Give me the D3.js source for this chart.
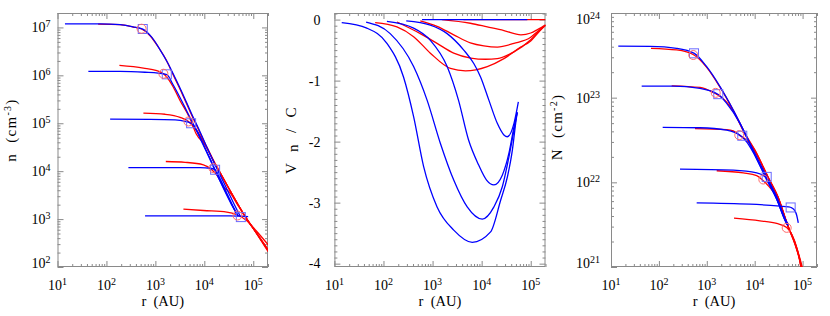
<!DOCTYPE html>
<html><head><meta charset="utf-8">
<script src="https://cdn.jsdelivr.net/npm/d3@7"></script>
<style>
body{margin:0;background:#fff}
svg{display:block}
text{font-family:"Liberation Serif","DejaVu Serif","Times New Roman",serif;fill:#000}
</style>
</head><body>
<svg id="c" width="830" height="316" font-family="Liberation Serif, DejaVu Serif, serif"></svg>
<script>
// ---------- tick labels ----------
const rTicks = [1e1, 1e2, 1e3, 1e4, 1e5];
const rTickExp = ["1", "2", "3", "4", "5"];
const nTicks = [1e2, 1e3, 1e4, 1e5, 1e6, 1e7];
const nTickExp = ["2", "3", "4", "5", "6", "7"];
const vTicks = [0, -1, -2, -3, -4];
const vTickLabels = ["0", "-1", "-2", "-3", "-4"];
const NTicks = [1e21, 1e22, 1e23, 1e24];
const NTickExp = ["21", "22", "23", "24"];

// ---------- panel 1: n (cm^-3) vs r (AU) ----------
const nBlue = [
  [[14.2,1.19e7],[74,1.19e7],[190,1.14e7],[350,1.03e7],[552,9.2e6],[857,6.1e6],[1248,3.4e6],[1735,1.92e6],[2531,8.9e5],[3684,3.94e5],[5370,1.66e5],[7830,7.3e4],[11410,3.08e4],[15860,1.5e4],[22060,7.46e3],[30670,3.72e3],[40700,2.04e3],[53950,1.16e3]],
  [[42.7,1.21e6],[190,1.21e6],[615,1.16e6],[1136,1.11e6],[1711,1.03e6],[2302,6.37e5],[3201,3.41e5],[4448,1.74e5],[6486,8.06e4],[9446,3.56e4],[13140,1.73e4],[18280,8.4e3],[25400,4.09e3],[35340,2.08e3],[49100,1.16e3]],
  [[119,1.22e5],[780,1.21e5],[2531,1.18e5],[4046,1.10e5],[5370,1.0e5],[7125,6.97e4],[9908,3.39e4],[13770,1.65e4],[19150,7.64e3],[26630,3.9e3],[35340,2.19e3],[46880,1.2e3]],
  [[281,1.19e4],[2000,1.19e4],[8203,1.18e4],[13140,1.15e4],[16630,1.07e4],[21040,6.9e3],[27900,3.72e3],[37070,1.99e3],[49100,1.16e3]],
  [[615,1.17e3],[8203,1.17e3],[33720,1.17e3],[53950,1.15e3],[78690,1.13e3]]
];
const nRed = [
  [[67.6,1.17e7],[190,1.14e7],[350,1.02e7],[522,9.27e6],[780,6.72e6],[1136,3.95e6],[1656,2.12e6],[2410,9.35e5],[3516,4.13e5],[5124,1.74e5],[7470,7.67e4],[10890,3.39e4],[15860,1.57e4],[23110,7.83e3],[33720,3.9e3],[49100,1.99e3],[71590,1.06e3],[114600,5.18e2],[201800,2.08e2]],
  [[184,1.61e6],[569,1.42e6],[1069,1.25e6],[1459,1.08e6],[1711,9.2e5],[2302,5.78e5],[3201,2.95e5],[5000,1.30e5],[6800,6.04e4],[10890,3.3e4],[15860,1.55e4],[23110,7.8e3],[33720,3.9e3],[49100,1.99e3],[71590,1.06e3],[114600,5.3e2],[201800,2.3e2]],
  [[569,1.63e5],[1579,1.54e5],[3201,1.33e5],[4732,1.09e5],[6486,7.67e4],[10890,3.3e4],[15860,1.55e4],[23110,7.8e3],[33720,3.9e3],[49100,1.99e3],[71590,1.05e3],[114600,5.2e2],[201800,2.2e2]],
  [[1633,1.59e4],[4046,1.53e4],[9590,1.36e4],[14220,1.07e4],[19150,7.64e3],[25400,4.61e3],[33720,3.54e3],[49100,1.9e3],[71590,1.04e3],[114600,5.2e2],[201800,2.25e2]],
  [[3738,1.62e3],[9590,1.51e3],[28840,1.40e3],[46220,1.23e3],[73950,9.23e2],[114600,5.7e2],[201800,2.9e2]]
];
const nSquares = [[552,9.27e6],[1711,1.05e6],[5370,1.0e5],[16600,1.07e4],[55720,1.10e3]];
const nCircles = [[522,9.4e6],[1459,1.08e6],[4732,1.09e5],[15350,1.16e4],[47530,1.19e3]];

// ---------- panel 2: V_n / C vs r (AU) ----------
const vBlue = [
  [[14.1,-0.05],[45.8,-0.14],[117.5,-0.39],[256,-0.94],[411,-1.59],[658,-2.41],[1236,-3.07],[2698,-3.45],[6427,-3.65],[15210,-3.48],[24380,-2.96],[33420,-2.58],[42270,-2.14],[49320,-1.70],[52970,-1.52]],
  [[44.3,-0.04],[137,-0.23],[411,-0.77],[773,-1.32],[1445,-2.03],[2698,-2.63],[5082,-3.07],[10280,-3.27],[17780,-3.07],[26360,-2.74],[35970,-2.25],[45600,-1.81],[52970,-1.52]],
  [[117.5,-0.03],[411,-0.14],[902,-0.34],[1982,-0.77],[3373,-1.32],[5395,-1.97],[8650,-2.38],[12590,-2.63],[17780,-2.71],[26360,-2.55],[35970,-2.19],[45600,-1.76],[52970,-1.52]],
  [[291,-0.02],[902,-0.09],[1982,-0.23],[4325,-0.50],[6918,-0.72],[9506,-0.94],[14030,-1.32],[20840,-1.70],[28440,-1.89],[33340,-1.92],[45600,-1.70],[55980,-1.35]],
  [[610,0],[85110,0]]
];
const vRed = [
  [[67.6,-0.05],[188,-0.12],[411,-0.28],[902,-0.55],[2312,-0.80],[4677,-0.84],[13030,-0.77],[28440,-0.64],[62370,-0.45],[100000,-0.35],[140000,-0.22],[200000,-0.09]],
  [[188,-0.04],[562,-0.23],[1236,-0.39],[2698,-0.55],[6000,-0.63],[12020,-0.65],[20840,-0.64],[45600,-0.53],[100000,-0.33],[140000,-0.21],[200000,-0.09]],
  [[562,-0.02],[1236,-0.11],[2698,-0.25],[5888,-0.38],[11090,-0.43],[20890,-0.45],[45600,-0.39],[100000,-0.29],[140000,-0.19],[200000,-0.09]],
  [[1549,0],[5888,-0.06],[13030,-0.12],[28440,-0.18],[63100,-0.25],[100000,-0.22],[140000,-0.16],[200000,-0.09]],
  [[4266,0],[200000,0]]
];

// ---------- panel 3: N (cm^-2) vs r (AU) ----------
const NBlue = [
  [[14.2,4.07e23],[65.2,4.04e23],[235,3.83e23],[548,3.34e23],[995,2.32e23],[1888,1.35e23],[3573,7.13e22],[6806,3.45e22],[9354,2.4e22],[17820,1.16e22],[28790,6.74e21],[46600,3.41e21],[50250,3.2e21]],
  [[43.7,1.37e23],[200,1.37e23],[721,1.29e23],[1738,1.09e23],[2602,8.57e22],[4932,4.97e22],[7000,3.3e22],[9354,2.3e22],[17820,1.1e22],[28790,6.4e21],[46600,3.3e21],[49570,3.15e21]],
  [[120,4.46e22],[721,4.41e22],[2602,4.14e22],[5102,3.55e22],[7000,2.95e22],[9354,2.25e22],[17820,1.07e22],[28790,6.3e21],[46600,3.25e21],[49570,3.1e21]],
  [[276,1.43e22],[3573,1.39e22],[11020,1.29e22],[17820,1.12e22],[22000,9.0e21],[28790,6.4e21],[46600,3.3e21],[49570,3.1e21]],
  [[615,5.73e21],[7979,5.53e21],[33760,5.23e21],[50250,5.13e21],[59230,5.0e21],[69380,4.6e21],[75300,4.09e21],[81300,3.32e21]]
];
const NRed = [
  [[68.4,3.83e23],[235,3.66e23],[540,3.19e23],[995,2.28e23],[1888,1.33e23],[3573,7.1e22],[6806,3.5e22],[10140,2.4e22],[18970,1.16e22],[30600,6.74e21],[50250,2.98e21],[69380,1.95e21],[88300,1.25e21],[108000,8e20]],
  [[185,1.38e23],[721,1.32e23],[1483,1.12e23],[2100,1.0e23],[3000,8.0e22],[3573,6.9e22],[6806,3.4e22],[10140,2.38e22],[18970,1.15e22],[30600,6.7e21],[50250,2.98e21],[69380,1.9e21],[88300,1.2e21],[104000,8e20]],
  [[568,4.31e22],[2602,4.2e22],[3573,4.05e22],[4764,3.61e22],[6806,3.15e22],[10140,2.3e22],[18970,1.14e22],[30600,6.7e21],[50250,2.98e21],[69380,1.88e21],[88300,1.18e21],[101000,8e20]],
  [[1611,1.37e22],[5781,1.29e22],[11020,1.2e22],[14700,1.06e22],[20000,8.9e21],[30600,6.4e21],[50250,2.95e21],[69380,1.85e21],[88300,1.15e21],[99000,8e20]],
  [[3698,3.78e21],[12910,3.51e21],[28790,3.27e21],[46600,2.93e21],[60140,2.4e21],[75300,1.7e21],[88300,1.15e21],[96000,8e20]]
];
const NSquares = [[541,3.34e23],[1738,1.10e23],[5508,3.55e22],[17820,1.16e22],[56370,5.05e21]];
const NCircles = [[522,3.19e23],[1535,1.14e23],[4764,3.61e22],[15140,1.08e22],[46600,2.90e21]];

// ---------- drawing ----------
const svg = d3.select("#c");
const BLUE = "#0000ff", RED = "#ff0000", FRAME = "#8a8a8a";

function powLabel(g, x, y, base, exp, anchor, size, supSize) {
  const t = g.append("text").attr("x", x).attr("y", y)
    .attr("text-anchor", anchor).attr("font-size", size);
  t.append("tspan").text(base);
  t.append("tspan").attr("dy", -5).attr("font-size", supSize).text(exp);
  return t;
}
const isMajorLog = v => Math.abs(Math.log10(v) - Math.round(Math.log10(v))) < 1e-6;

function panel(cfg) {
  const g = svg.append("g");
  const x = d3.scaleLog().domain([10, 2e5]).range([cfg.x0, cfg.x1]);
  const y = cfg.yLog ? d3.scaleLog().domain(cfg.yDomain).range([cfg.y1, cfg.y0])
                     : d3.scaleLinear().domain(cfg.yDomain).range([cfg.y1, cfg.y0]);
  const clipId = "clip" + cfg.id;
  svg.append("clipPath").attr("id", clipId).append("rect")
    .attr("x", cfg.x0).attr("y", cfg.y0).attr("width", cfg.x1 - cfg.x0).attr("height", cfg.y1 - cfg.y0);

  // ticks
  const xMinor = x.ticks().filter(v => !isMajorLog(v));
  const yMinor = cfg.yLog ? y.ticks().filter(v => !isMajorLog(v)) : cfg.yMinor;
  const axes = [
    [d3.axisBottom(x), `translate(0,${cfg.y1})`, cfg.xMajor, xMinor],
    [d3.axisTop(x), `translate(0,${cfg.y0})`, cfg.xMajor, xMinor],
    [d3.axisLeft(y), `translate(${cfg.x0},0)`, cfg.yMajor, yMinor],
    [d3.axisRight(y), `translate(${cfg.x1},0)`, cfg.yMajor, yMinor]
  ];
  axes.forEach(([ax, tr, maj, min]) => {
    g.append("g").attr("transform", tr).attr("color", FRAME)
      .call(ax.tickValues(min).tickSize(-3).tickFormat(""))
      .call(s => s.select(".domain").remove());
    g.append("g").attr("transform", tr).attr("color", FRAME)
      .call(ax.tickValues(maj).tickSize(-6).tickFormat(""))
      .call(s => s.select(".domain").remove());
  });
  g.append("rect").attr("x", cfg.x0 + 0.5).attr("y", cfg.y0 + 0.5)
    .attr("width", cfg.x1 - cfg.x0 - 1).attr("height", cfg.y1 - cfg.y0 - 1)
    .attr("fill", "none").attr("stroke", FRAME).attr("stroke-width", 1);

  // tick labels
  cfg.xMajor.forEach((v, i) => powLabel(g, x(v), cfg.y1 + 23, "10", rTickExp[i], "middle", 14, 10));
  cfg.yMajor.forEach((v, i) => {
    const yy = Math.max(cfg.y0 + 11, Math.min(cfg.y1 + 1, y(v) + 5));
    if (cfg.yLog) powLabel(g, cfg.x0 - cfg.labGap, yy, "10", cfg.yLabels[i], "end", 14, 10);
    else g.append("text").attr("x", cfg.x0 - cfg.labGap).attr("y", yy)
          .attr("text-anchor", "end").attr("font-size", 14).text(cfg.yLabels[i]);
  });

  // axis titles
  g.append("text").attr("x", (cfg.x0 + cfg.x1) / 2).attr("y", 306)
    .attr("text-anchor", "middle").attr("font-size", 14.5)
    .style("white-space", "pre").text("r  (AU)");
  const yt = g.append("text").attr("transform", `translate(${cfg.tx},${cfg.ty}) rotate(-90)`)
    .attr("text-anchor", "middle").attr("font-size", 15)
    .attr("letter-spacing", 1.3).style("white-space", "pre");
  cfg.title(yt);

  // curves
  const line = d3.line().x(d => x(d[0])).y(d => y(d[1])).curve(d3.curveMonotoneX);
  const plot = g.append("g").attr("clip-path", `url(#${clipId})`);
  cfg.red.forEach(s => plot.append("path").attr("d", line(s)).attr("fill", "none")
    .attr("stroke", RED).attr("stroke-width", 1.3));
  cfg.blue.forEach(s => plot.append("path").attr("d", line(s)).attr("fill", "none")
    .attr("stroke", BLUE).attr("stroke-width", 1.3));
  (cfg.squares || []).forEach(d => plot.append("rect")
    .attr("x", x(d[0]) - 4.5).attr("y", y(d[1]) - 4.5).attr("width", 9).attr("height", 9)
    .attr("fill", "none").attr("stroke", "#6a6aff").attr("stroke-width", 1));
  (cfg.circles || []).forEach(d => plot.append("circle")
    .attr("cx", x(d[0])).attr("cy", y(d[1])).attr("r", 4.5)
    .attr("fill", "none").attr("stroke", "#ff6a6a").attr("stroke-width", 1));
}

panel({
  id: "n", x0: 57.5, x1: 268, y0: 13, y1: 267, yLog: true, yDomain: [1e2, 2e7],
  xMajor: rTicks, yMajor: nTicks, yLabels: nTickExp, labGap: 7,
  tx: 16, ty: 130,
  title: t => { t.append("tspan").text("n  (cm"); t.append("tspan").attr("dy", -5).attr("font-size", 10).text("-3");
                t.append("tspan").attr("dy", 5).text(")"); },
  blue: nBlue, red: nRed, squares: nSquares, circles: nCircles
});
panel({
  id: "v", x0: 334.4, x1: 545.5, y0: 13, y1: 267, yLog: false, yDomain: [-4.055, 0.108],
  xMajor: rTicks, yMajor: vTicks, yLabels: vTickLabels, labGap: 14,
  yMinor: d3.range(-40, 2).map(i => i / 10).filter(v => Math.abs(v - Math.round(v)) > 1e-6),
  tx: 296, ty: 140,
  title: t => { t.append("tspan").text("V  "); t.append("tspan").attr("dy", 2).text("n");
                t.append("tspan").attr("dy", -2).text("  /  C"); },
  blue: vBlue, red: vRed
});
panel({
  id: "N", x0: 611, x1: 817, y0: 13, y1: 267, yLog: true, yDomain: [1e21, 1e24],
  xMajor: rTicks, yMajor: NTicks, yLabels: NTickExp, labGap: 11,
  tx: 562, ty: 127,
  title: t => { t.append("tspan").text("N  (cm"); t.append("tspan").attr("dy", -5).attr("font-size", 10).text("-2");
                t.append("tspan").attr("dy", 5).text(")"); },
  blue: NBlue, red: NRed, squares: NSquares, circles: NCircles
});
</script>
</body></html>
